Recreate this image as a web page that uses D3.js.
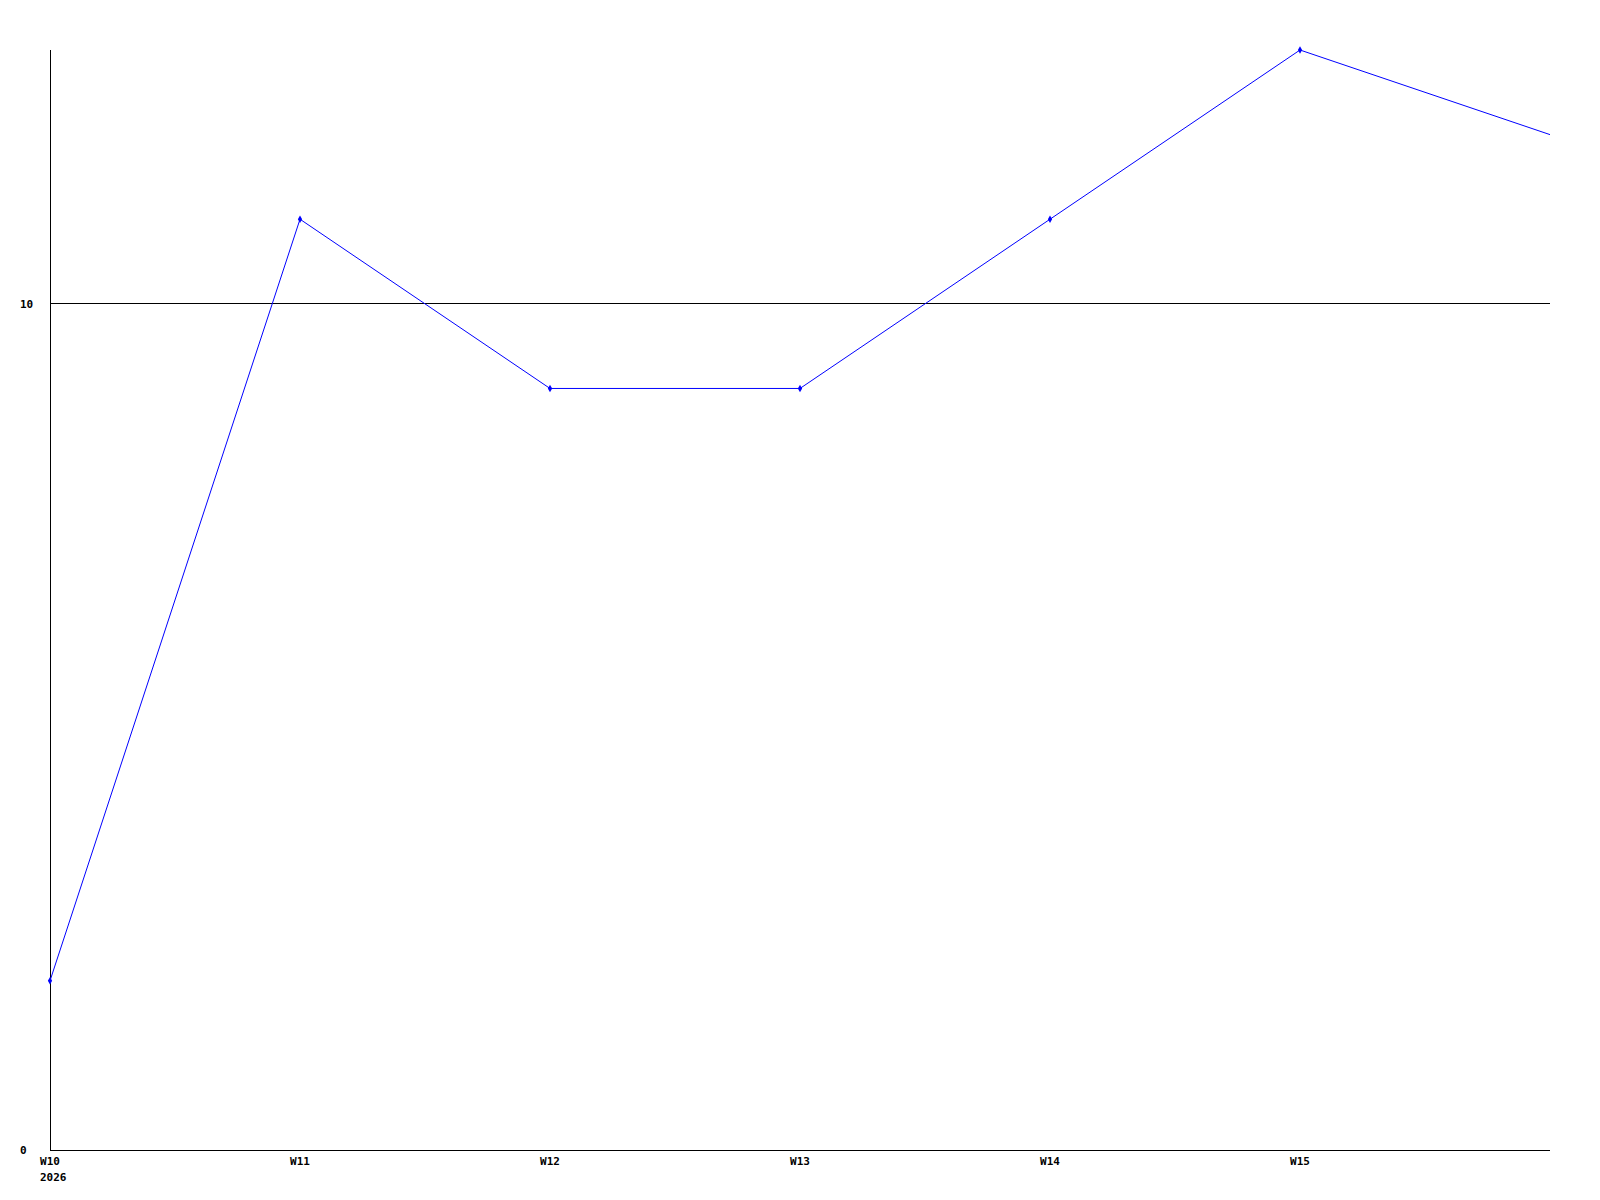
<!DOCTYPE html>
<html>
<head>
<meta charset="utf-8">
<script src="https://cdn.jsdelivr.net/npm/d3@7"></script>
<style>
  body { margin: 0; background: #fff; }
  text { font-family: "DejaVu Sans Mono", monospace; font-size: 11px; font-weight: bold; fill: #000; }
</style>
</head>
<body>
<svg id="chart" width="1600" height="1200"></svg>
<script>
// weeks (the last one has no label in the picture)
var weeks = ["W10", "W11", "W12", "W13", "W14", "W15", "W16"];
var weekLabels = ["W10", "W11", "W12", "W13", "W14", "W15", ""];
var values = [2, 11, 9, 9, 11, 13, 12];
var yTicks = [0, 10];
var yearLabel = "2026";

var svg = d3.select("#chart");

// plot box (window.top is reserved, so own names here)
var plotLeft = 50, plotRight = 1550, plotTop = 50, plotBottom = 1150;

var x = d3.scalePoint()
          .domain(weeks)
          .range([plotLeft, plotRight]);
var y = d3.scaleLinear()
          .domain([0, 13])
          .range([plotBottom, plotTop]);

// grid line at 10
svg.selectAll(".grid")
   .data(yTicks.filter(function(d) { return d > 0; }))
   .enter()
   .append("line")
   .attr("x1", plotLeft).attr("x2", plotRight)
   .attr("y1", function(d) { return Math.floor(y(d)) + 0.5; })
   .attr("y2", function(d) { return Math.floor(y(d)) + 0.5; })
   .attr("stroke", "#000");

// axes lines
svg.append("line")
   .attr("x1", plotLeft + 0.5).attr("x2", plotLeft + 0.5)
   .attr("y1", plotTop).attr("y2", plotBottom)
   .attr("stroke", "#000");
svg.append("line")
   .attr("x1", plotLeft).attr("x2", plotRight)
   .attr("y1", plotBottom + 0.5).attr("y2", plotBottom + 0.5)
   .attr("stroke", "#000");

// y labels
svg.selectAll(".ylab")
   .data(yTicks)
   .enter()
   .append("text")
   .attr("x", 20)
   .attr("y", function(d) { return y(d) + 4; })
   .text(function(d) { return d; });

// x labels
svg.selectAll(".xlab")
   .data(weeks)
   .enter()
   .append("text")
   .attr("x", function(d) { return x(d); })
   .attr("y", plotBottom + 15)
   .attr("text-anchor", "middle")
   .text(function(d, i) { return weekLabels[i]; });

svg.append("text")
   .attr("x", x(weeks[0]) - 10)
   .attr("y", plotBottom + 31)
   .text(yearLabel);

// the line
var line = d3.line()
   .x(function(d, i) { return x(weeks[i]); })
   .y(function(d) { return y(d); });

svg.append("path")
   .datum(values)
   .attr("d", line)
   .attr("fill", "none")
   .attr("stroke", "#0000ff")
   .attr("stroke-width", 1);

// small markers
svg.selectAll(".pt")
   .data(values.slice(0, values.length - 1))
   .enter()
   .append("path")
   .attr("d", d3.symbol().type(d3.symbolDiamond).size(16))
   .attr("transform", function(d, i) { return "translate(" + x(weeks[i]) + "," + y(d) + ")"; })
   .attr("fill", "#0000ff");
</script>
</body>
</html>
